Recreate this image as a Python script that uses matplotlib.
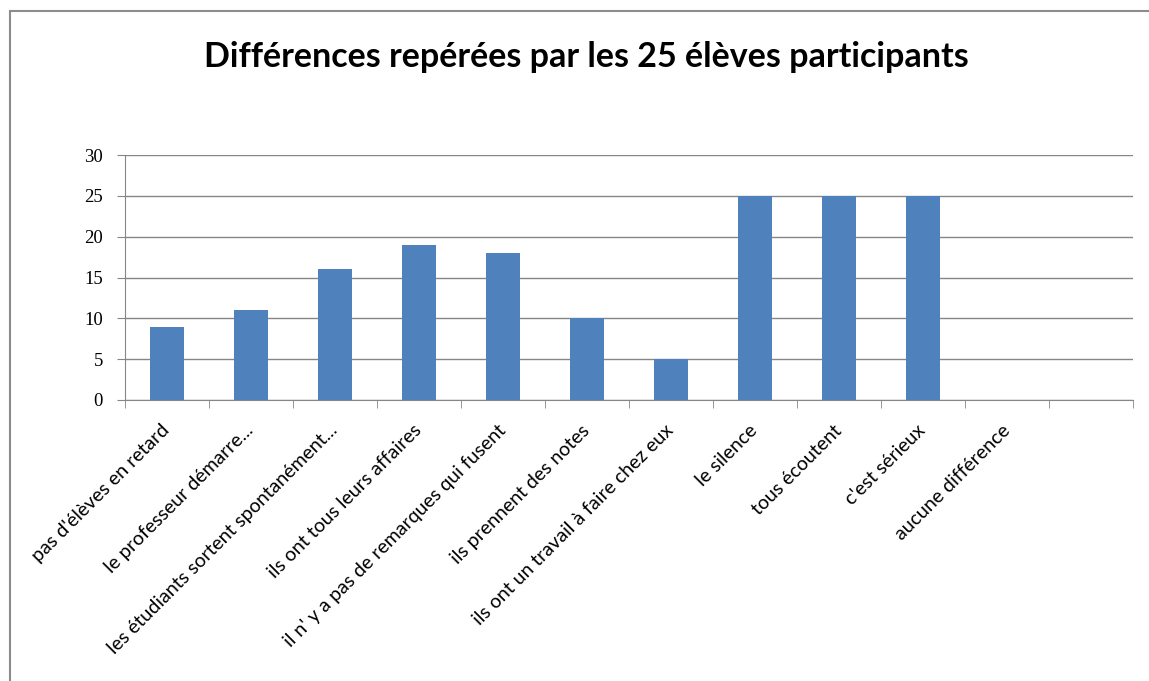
import matplotlib.pyplot as plt
from matplotlib.patches import Rectangle
import numpy as np

# Données du graphique
categories = [
    "pas d'élèves en retard",
    "le professeur démarre...",
    "les étudiants sortent spontanément...",
    "ils ont tous leurs affaires",
    "il n' y a pas de remarques qui fusent",
    "ils prennent des notes",
    "ils ont un travail à faire chez eux",
    "le silence",
    "tous écoutent",
    "c'est sérieux",
    "aucune différence",
    "",
]
valeurs = [9, 11, 16, 19, 18, 10, 5, 25, 25, 25, 0, 0]
yticks = [0, 5, 10, 15, 20, 25, 30]

W, H = 1149, 681
fig = plt.figure(figsize=(W / 100, H / 100), dpi=100)

# cadre gris autour du graphique
fig.patches.append(Rectangle((10 / W, -0.1), 1.2, 1 - 11 / H + 0.1,
                             transform=fig.transFigure, fill=False,
                             edgecolor='#8c8c8c', linewidth=1.5))

ax = fig.add_axes([125 / W, 1 - 400 / H, (1133 - 125) / W, (400 - 155) / H])
x = np.arange(len(categories))
ax.bar(x, valeurs, width=0.4, color='#4F81BD', zorder=3)

ax.set_xlim(-0.5, len(categories) - 0.5)
ax.set_ylim(0, 30)
ax.set_yticks(yticks)
ax.set_yticklabels([str(v) for v in yticks], family='Liberation Serif', fontsize=13.5)
ax.yaxis.grid(True, color='#868686', linewidth=1, zorder=0)
ax.tick_params(axis='y', length=6, color='#868686', pad=10)

ax.set_xticks(x)
ax.set_xticklabels(categories, rotation=45, ha='right', va='center',
                   rotation_mode='anchor', family='Lato', fontsize=14)
ax.tick_params(axis='x', which='major', length=0, pad=20)
ax.set_xticks(np.arange(len(categories) + 1) - 0.5, minor=True)
ax.tick_params(axis='x', which='minor', length=6, color='#868686')

for side in ['top', 'right']:
    ax.spines[side].set_visible(False)
for side in ['left', 'bottom']:
    ax.spines[side].set_color('#868686')

fig.text(586 / W, 1 - 57 / H, "Différences repérées par les 25 élèves participants",
         ha='center', va='center', family='Lato', fontweight='bold', fontsize=24.5)

fig.savefig('out.png', dpi=100)
